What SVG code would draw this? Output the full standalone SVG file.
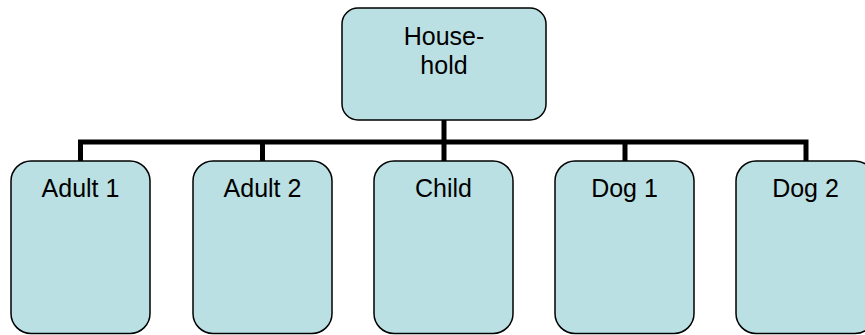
<svg xmlns="http://www.w3.org/2000/svg" width="865" height="335" viewBox="0 0 865 335">
<style>
.box{fill:#BAE0E3;stroke:#000;stroke-width:1.5}
.lbl{font-family:"Liberation Sans",Arial,sans-serif;font-size:25px;fill:#000;text-anchor:middle}
.conn{fill:none;stroke:#000;stroke-width:5}
</style>
<rect width="865" height="335" fill="#fff"/>
<g id="connectors">
<path class="conn" d="M444 120 V142 M80.5 161 V142 H806 V161 M262.5 142 V161 M444 142 V161 M625 142 V161"/>
</g>
<g id="household">
<rect class="box" x="342" y="8" width="204" height="112" rx="16"/>
<text class="lbl" x="444" y="45">House-</text>
<text class="lbl" x="444" y="74">hold</text>
</g>
<g id="adult1">
<rect class="box" x="11" y="161" width="139" height="172.5" rx="20"/>
<text class="lbl" x="80.5" y="197">Adult 1</text>
</g>
<g id="adult2">
<rect class="box" x="193" y="161" width="139" height="172.5" rx="20"/>
<text class="lbl" x="262.5" y="197">Adult 2</text>
</g>
<g id="child">
<rect class="box" x="374" y="161" width="139" height="172.5" rx="20"/>
<text class="lbl" x="443.5" y="197">Child</text>
</g>
<g id="dog1">
<rect class="box" x="555" y="161" width="139" height="172.5" rx="20"/>
<text class="lbl" x="624.5" y="197">Dog 1</text>
</g>
<g id="dog2">
<rect class="box" x="736" y="161" width="139" height="172.5" rx="20"/>
<text class="lbl" x="805.5" y="197">Dog 2</text>
</g>
</svg>
